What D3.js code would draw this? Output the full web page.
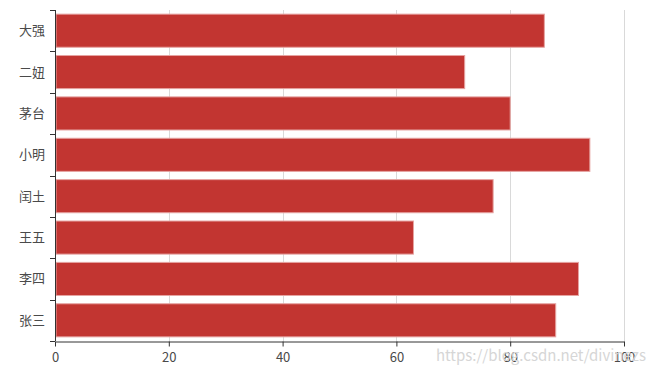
<!DOCTYPE html>
<html>
<head>
<meta charset="utf-8">
<script src="https://cdn.jsdelivr.net/npm/d3@7"></script>
<style>
body { margin: 0; background: #fff; }
text { font-family: "Noto Sans CJK SC", "DejaVu Sans", sans-serif; }
</style>
</head>
<body>
<script>
// chart data
var names = ["大强", "二妞", "茅台", "小明", "闰土", "王五", "李四", "张三"];
var scores = [86, 72, 80, 94, 77, 63, 92, 88];
var xTicks = [0, 20, 40, 60, 80, 100];

var width = 655,
	height = 375,
	margin = { top: 10, right: 31, bottom: 34, left: 55 };

var svg = d3.select("body")
	.append("svg")
	.attr("width", width)
	.attr("height", height);

var g = svg.append("g")
	.attr("transform", "translate(" + margin.left + "," + margin.top + ")");

var innerW = width - margin.left - margin.right,
	innerH = height - margin.top - margin.bottom;

var x = d3.scaleLinear()
	.domain([0, 100])
	.range([0, innerW]);

var y = d3.scaleBand()
	.domain(names)
	.range([0, innerH])
	.paddingInner(0.2)
	.paddingOuter(0.1);

// grid lines
g.append("g")
	.selectAll("line")
	.data(xTicks.slice(1))
	.enter().append("line")
	.attr("x1", function(d) { return Math.round(x(d)) + 0.5; })
	.attr("x2", function(d) { return Math.round(x(d)) + 0.5; })
	.attr("y1", 0)
	.attr("y2", innerH)
	.attr("stroke", "#d9d9d9")
	.attr("stroke-width", 1);

// bars
g.append("g")
	.selectAll("rect")
	.data(names)
	.enter().append("rect")
	.attr("x", x(0) + 1)
	.attr("y", function(d) { return y(d); })
	.attr("width", function(d, i) { return x(scores[i]) - 1; })
	.attr("height", y.bandwidth())
	.attr("fill", "#c23531")
	.attr("stroke", "#e6a3a1")
	.attr("stroke-width", 1);

// y axis, ticks on band edges
var yAxis = g.append("g");
yAxis.append("line")
	.attr("x1", 0.5).attr("x2", 0.5)
	.attr("y1", 0).attr("y2", innerH)
	.attr("stroke", "#333");
var step = innerH / names.length;
yAxis.selectAll(".ytick")
	.data(d3.range(names.length + 1))
	.enter().append("line")
	.attr("class", "ytick")
	.attr("x1", -5).attr("x2", 0)
	.attr("y1", function(d) { return Math.round(d * step) + 0.5; })
	.attr("y2", function(d) { return Math.round(d * step) + 0.5; })
	.attr("stroke", "#333");
yAxis.selectAll(".ylabel")
	.data(names)
	.enter().append("text")
	.attr("class", "ylabel")
	.attr("x", -10)
	.attr("y", function(d) { return y(d) + y.bandwidth() / 2; })
	.attr("dy", "0.35em")
	.attr("text-anchor", "end")
	.attr("font-size", 13)
	.attr("fill", "#4a4a4a")
	.text(function(d) { return d; });

// x axis
var xAxis = g.append("g")
	.attr("transform", "translate(0," + (innerH + 0.5) + ")")
	.call(d3.axisBottom(x).tickValues(xTicks).tickSizeInner(5).tickSizeOuter(0).tickPadding(6));
xAxis.select(".domain").attr("stroke", "#333");
xAxis.selectAll(".tick line").attr("stroke", "#333");
xAxis.selectAll("text")
	.attr("font-size", 13)
	.attr("font-family", "\"Noto Sans CJK SC\", sans-serif")
	.attr("fill", "#4a4a4a");

// watermark (sits over the last tick labels, as in the original)
svg.append("text")
	.attr("x", 646)
	.attr("y", 361)
	.attr("text-anchor", "end")
	.attr("font-size", 15)
	.attr("font-family", "\"Liberation Sans\", Arial, sans-serif")
	.attr("fill", "#d6d6d6")
	.text("https://blog.csdn.net/divinezs");
</script>
</body>
</html>
